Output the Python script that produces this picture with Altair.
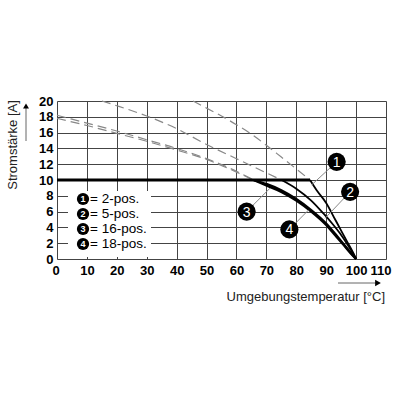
import altair as alt
import pandas as pd

# ---------------- data ----------------
x_ticks = [0, 10, 20, 30, 40, 50, 60, 70, 80, 90, 100, 110]
y_ticks = [0, 2, 4, 6, 8, 10, 12, 14, 16, 18, 20]

# curve 1 (2-pos.)
c1_dash_T = [45.5, 50, 55, 60, 65, 70, 75, 80, 84.6]
c1_dash_I = [20.0, 19.1, 18.1, 17.0, 15.8, 14.4, 12.9, 11.4, 10.0]
c1_solid_T = [84.6, 87, 90, 93, 95, 97, 99, 100]
c1_solid_I = [10.0, 8.6, 7.1, 5.0, 3.6, 2.2, 0.8, 0.0]

# curve 2 (5-pos.)
c2_dash_T = [15, 20, 30, 40, 50, 60, 70, 75.1]
c2_dash_I = [20.0, 19.4, 18.1, 16.5, 14.5, 12.7, 10.9, 10.0]
c2_solid_T = [75.1, 80, 85, 89, 92, 94.6, 97, 99, 100]
c2_solid_I = [10.0, 8.9, 7.4, 5.8, 4.5, 3.25, 1.9, 0.7, 0.0]

# curve 3 (16-pos.) and curve 4 (18-pos.)
c34_dash_T = [0, 10, 20, 30, 40, 50, 60, 65.7]
c3_dash_I = [18.2, 17.2, 16.2, 15.1, 14.0, 12.7, 11.1, 10.0]
c4_dash_I = [17.8, 16.9, 15.9, 14.9, 13.8, 12.6, 11.0, 10.0]
c34_solid_T = [65.7, 70, 75, 80, 85, 90, 93, 96, 98, 100]
c3_solid_I = [10.0, 9.5, 8.7, 7.6, 6.2, 4.5, 3.2, 1.8, 0.9, 0.0]
c4_solid_I = [10.0, 9.3, 8.5, 7.4, 6.0, 4.3, 3.0, 1.7, 0.8, 0.0]

# 10 A plateau
plateau_T = [0, 84.6]
plateau_I = [10, 10]

# curve labels: number, label position, leader end on curve
label_num = ["1", "2", "3", "4"]
label_T = [93.5, 98.0, 63.4, 77.7]
label_I = [12.3, 8.5, 6.0, 3.75]
leader_T = [85.2, 89.6, 71.2, 84.1]
leader_I = [9.4, 5.15, 8.95, 6.2]

legend_num = ["1", "2", "3", "4"]
legend_text = ["= 2-pos.", "= 5-pos.", "= 16-pos.", "= 18-pos."]

# ---------------- tables ----------------
def frame(T, I, name):
    return pd.DataFrame({"T": T, "I": I, "curve": name})

dash_df = pd.concat([
    frame(c1_dash_T, c1_dash_I, "c1"),
    frame(c2_dash_T, c2_dash_I, "c2"),
    frame(c34_dash_T, c3_dash_I, "c3"),
    frame(c34_dash_T, c4_dash_I, "c4"),
])
solid_thin_df = pd.concat([
    frame(c1_solid_T, c1_solid_I, "c1"),
    frame(c2_solid_T, c2_solid_I, "c2"),
])
solid_thick_df = pd.concat([
    frame(c34_solid_T, c3_solid_I, "c3"),
    frame(c34_solid_T, c4_solid_I, "c4"),
])
plateau_df = frame(plateau_T, plateau_I, "p")
labels_df = pd.DataFrame({"n": label_num, "T": label_T, "I": label_I,
                          "T2": leader_T, "I2": leader_I})
legend_df = pd.DataFrame({"n": legend_num, "txt": legend_text,
                          "py": [98 + 15 * i for i in range(len(legend_num))]})
one = pd.DataFrame({"a": [0]})

FONT = "Liberation Sans"
W, H = 329, 158

x_scale = alt.Scale(domain=[0, 110], nice=False, zero=False)
y_scale = alt.Scale(domain=[0, 20], nice=False)
x_axis = alt.Axis(values=x_ticks, grid=True, gridColor="#444", gridWidth=1,
                  domain=False, ticks=False, labelFontWeight="bold",
                  labelFontSize=13, labelColor="black", labelPadding=5,
                  labelFont=FONT, labelOverlap=False, labelFlush=True,
                  labelFlushOffset=5, title=None)
y_axis = alt.Axis(values=y_ticks, grid=True, gridColor="#444", gridWidth=1,
                  domain=False, ticks=False, labelFontWeight="bold",
                  labelFontSize=13, labelColor="black", labelPadding=4,
                  labelFont=FONT, labelOverlap=False, labelFlush=False,
                  title=None)
X = alt.X("T:Q", scale=x_scale, axis=x_axis)
Y = alt.Y("I:Q", scale=y_scale, axis=y_axis)

dashed = alt.Chart(dash_df).mark_line(
    color="#888", strokeWidth=1.2, strokeDash=[9, 5], interpolate="monotone"
).encode(x=X, y=Y, detail="curve:N")

thin = alt.Chart(solid_thin_df).mark_line(
    color="black", strokeWidth=1.8, interpolate="monotone"
).encode(x=X, y=Y, detail="curve:N")

thick = alt.Chart(solid_thick_df).mark_line(
    color="black", strokeWidth=2.3, interpolate="monotone"
).encode(x=X, y=Y, detail="curve:N")

plateau = alt.Chart(plateau_df).mark_line(
    color="black", strokeWidth=3
).encode(x=X, y=Y)

leaders = alt.Chart(labels_df).mark_rule(color="#888", strokeWidth=1).encode(
    x=X, y=Y, x2="T2:Q", y2="I2:Q")

label_dots = alt.Chart(labels_df).mark_point(
    shape="circle", filled=True, size=330, color="black", opacity=1
).encode(x=X, y=Y)

label_txt = alt.Chart(labels_df).mark_text(
    color="white", fontSize=14, font=FONT, align="center", baseline="middle", dy=1
).encode(x=X, y=Y, text="n:N")

# legend box
legend_bg = alt.Chart(one).mark_rect(fill="white").encode(
    x=alt.value(11), x2=alt.value(94), y=alt.value(90), y2=alt.value(156))
legend_dots = alt.Chart(legend_df).mark_point(
    shape="circle", filled=True, size=150, color="black", opacity=1
).encode(x=alt.value(26), y=alt.Y("py:Q", scale=None))
legend_nums = alt.Chart(legend_df).mark_text(
    color="white", fontSize=9, fontWeight="bold", font=FONT,
    align="center", baseline="middle"
).encode(x=alt.value(26), y=alt.Y("py:Q", scale=None), text="n:N")
legend_txt = alt.Chart(legend_df).mark_text(
    color="black", fontSize=13.5, font=FONT, align="left", baseline="middle"
).encode(x=alt.value(33), y=alt.Y("py:Q", scale=None), text="txt:N")

# axis titles with arrows
y_title = alt.Chart(one).mark_text(
    text="Stromstärke [A]", angle=270, fontSize=13, font=FONT,
    color="#222", align="center", baseline="middle"
).encode(x=alt.value(-44), y=alt.value(44))
y_arrow = alt.Chart(one).mark_rule(color="#666", strokeWidth=1).encode(
    x=alt.value(-31), y=alt.value(40), y2=alt.value(6))
y_head = alt.Chart(one).mark_point(
    shape="triangle-up", filled=True, size=35, color="black", opacity=1
).encode(x=alt.value(-31), y=alt.value(5))

x_title = alt.Chart(one).mark_text(
    text="Umgebungstemperatur [°C]", fontSize=13, font=FONT,
    color="#222", align="right", baseline="middle"
).encode(x=alt.value(328), y=alt.value(196))
x_arrow = alt.Chart(one).mark_rule(color="#666", strokeWidth=1).encode(
    x=alt.value(281), x2=alt.value(320), y=alt.value(182))
x_head = alt.Chart(one).mark_point(
    shape="triangle-right", filled=True, size=45, color="black", opacity=1
).encode(x=alt.value(321), y=alt.value(182))

chart = alt.layer(
    dashed, plateau, thin, thick, leaders, label_dots, label_txt,
    legend_bg, legend_dots, legend_nums, legend_txt,
    y_title, y_arrow, y_head, x_title, x_arrow, x_head
).properties(
    width=W, height=H,
    autosize=alt.AutoSizeParams(type="none"),
    padding={"left": 57, "top": 101, "right": 14, "bottom": 141},
).configure_view(stroke=None).configure(background="white")

chart.save("out.html", embed_options={"renderer": "svg", "actions": False})
